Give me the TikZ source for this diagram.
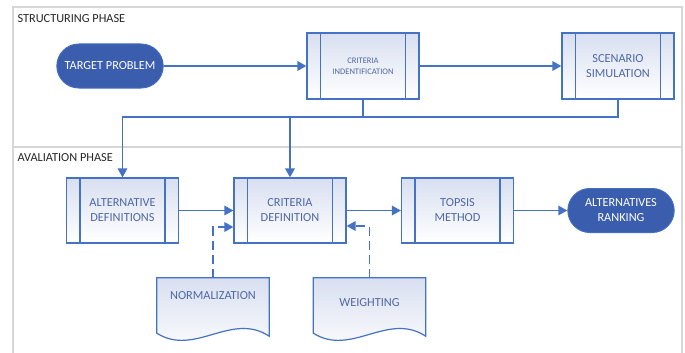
\documentclass[tikz,border=0pt]{standalone}
\usepackage{fontspec}
\setmainfont{Carlito}
\usetikzlibrary{arrows.meta,shapes.misc}
\definecolor{ln}{HTML}{4472C4}
\definecolor{dk}{HTML}{3A5DAE}
\definecolor{tx}{HTML}{4F67A6}
\definecolor{fr}{HTML}{D6D6D6}
\definecolor{topc}{HTML}{D8DFF0}
\tikzset{
  proc/.style={rectangle, draw=ln, line width=1.2pt, top color=topc, bottom color=white,
    minimum width=112pt, minimum height=66pt, text=tx, align=center,
    font=\fontsize{12.3}{15}\selectfont,
    path picture={
      \draw[ln, line width=1.2pt] ([xshift=13.5pt]path picture bounding box.north west) -- ([xshift=13.5pt]path picture bounding box.south west);
      \draw[ln, line width=1.2pt] ([xshift=-13.5pt]path picture bounding box.north east) -- ([xshift=-13.5pt]path picture bounding box.south east);
    }},
  term/.style={rounded rectangle, fill=dk, draw=ln!80!dk, line width=1pt, text=white,
    minimum width=113pt, minimum height=44pt, align=center, font=\fontsize{12.3}{15}\selectfont},
  docshape/.style={rectangle, minimum width=112pt, minimum height=55pt, inner sep=0pt},
  doctext/.style={text=tx, font=\fontsize{12.3}{15}\selectfont},
  phase/.style={anchor=west, text=black!85, font=\fontsize{12.3}{15}\selectfont},
  conn/.style={ln, line width=1.7pt},
  arr/.style={conn, -{Triangle[length=9pt,width=9.5pt]}},
  dasharr/.style={arr, dash pattern=on 9pt off 5pt},
}
\begin{document}
\begin{tikzpicture}[x=1pt,y=-1pt]
\useasboundingbox (0,0) rectangle (685,353);
% frame
\draw[fr, line width=1.2pt] (13,353) -- (13,7) -- (682,7) -- (682,353);
\draw[fr, line width=1.2pt] (13,147) -- (682,147);
\node[phase] (p1) at (14,19) {STRUCTURING PHASE};
\node[phase] (p2) at (14,158) {AVALIATION PHASE};

% structuring phase
\node[term] (tp) at (110,66) {TARGET PROBLEM};
\node[proc, font=\fontsize{8.5}{11}\selectfont] (ci) at (363,66) {CRITERIA\\INDENTIFICATION};
\node[proc] (ss) at (618,66) {SCENARIO\\SIMULATION};

% avaliation phase
\node[proc, minimum height=65pt] (ad) at (122.5,210.5) {ALTERNATIVE\\DEFINITIONS};
\node[proc, minimum height=65pt] (cd) at (290,210.5) {CRITERIA\\DEFINITION};
\node[proc, minimum height=65pt] (tm) at (457.5,210.5) {TOPSIS\\METHOD};
\node[term] (ar) at (621,210.5) {ALTERNATIVES\\RANKING};

% documents
\node[docshape] (nm) at (213,305.5) {};
\node[docshape] (wg) at (369.5,305.5) {};
\foreach \d in {nm,wg}{
  \shade[draw=ln, line width=1.2pt, top color=topc, bottom color=white]
    (\d.north west) -- (\d.north east) -- ([yshift=-3pt]\d.south east)
    .. controls ([xshift=-38pt,yshift=22pt]\d.south east) and ([xshift=38pt,yshift=-24pt]\d.south west) ..
    (\d.south west) -- cycle;
}
\node[doctext] (nmt) at ([yshift=9.5pt]nm.center) {NORMALIZATION};
\node[doctext] (wgt) at ([yshift=2.5pt]wg.center) {WEIGHTING};

% coordinate of bus line
\coordinate (bus) at (0,117);

% connectors
\draw[arr] (tp) -- (ci);
\draw[arr] (ci) -- (ss);
\draw[arr] (ss.south) |- (ad.north |- bus) -- (ad.north);
\draw[arr] (ci.south) |- (cd.north |- bus) -- (cd.north);
\draw[arr] (ad) -- (cd);
\draw[arr] (cd) -- (tm);
\draw[arr] (tm) -- (ar);
\draw[dasharr] (nm.north) |- ([yshift=-16.5pt]cd.west);
\draw[dasharr] (wg.north) |- ([yshift=-15.5pt]cd.east);
\end{tikzpicture}
\end{document}
